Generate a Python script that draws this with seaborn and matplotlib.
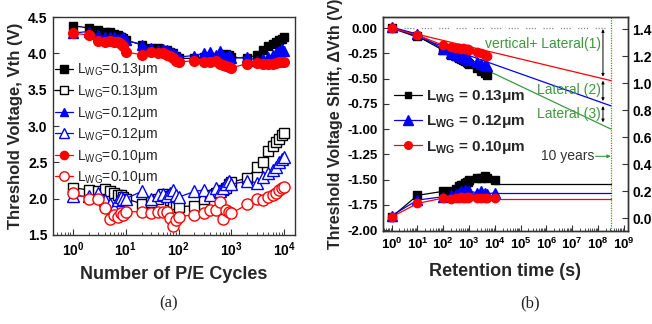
import numpy as np
import pandas as pd
import matplotlib
matplotlib.use("Agg")
import matplotlib.pyplot as plt
import seaborn as sns
from matplotlib.lines import Line2D
from matplotlib.ticker import FixedLocator, FixedFormatter, LogLocator, NullFormatter

# ---------------- data: panel (a) ----------------
cycles = [1, 2, 3, 4, 5, 6, 7, 8, 9, 10, 20, 30, 40, 50, 60, 70, 80, 90, 100,
          200, 300, 400, 500, 600, 700, 800, 900, 1000,
          2000, 3000, 4000, 5000, 6000, 7000, 8000, 9000, 10000]
vth_p13 = [4.38, 4.35, 4.32, 4.30, 4.29, 4.27, 4.25, 4.23, 4.21, 4.18, 4.12, 4.08, 4.07, 4.05, 4.04, 4.02, 4.00, 3.97, 3.93,
           3.93, 3.95, 3.93, 3.95, 3.96, 3.98, 3.99, 3.98, 3.95,
           3.93, 3.98, 4.05, 4.10, 4.13, 4.16, 4.18, 4.20, 4.22]
vth_p12 = [4.28, 4.30, 4.25, 4.23, 4.22, 4.22, 4.20, 4.20, 4.22, 4.18, 4.12, 4.07, 4.05, 4.06, 4.04, 4.02, 4.00, 3.98, 3.95,
           3.97, 4.00, 4.02, 3.98, 4.03, 3.97, 3.95, 3.98, 3.93,
           3.95, 3.90, 3.92, 3.95, 3.98, 4.00, 4.03, 4.06, 4.03]
vth_p10 = [4.28, 4.25, 4.17, 4.15, 4.17, 4.16, 4.15, 4.13, 4.10, 4.02, 3.98, 4.02, 4.00, 4.00, 3.98, 3.97, 3.93, 3.90, 3.88,
           3.90, 3.88, 3.88, 3.90, 3.86, 3.84, 3.82, 3.81, 3.80,
           3.86, 3.87, 3.86, 3.85, 3.86, 3.87, 3.88, 3.88, 3.88]
vth_e13 = [2.15, 2.12, 2.10, 2.13, 2.10, 2.08, 2.05, 2.05, 2.02, 2.00, 1.93, 1.95, 2.00, 2.07, 2.04, 1.98, 1.95, 1.93, 1.89,
           1.90, 2.00, 2.05, 2.08, 2.10, 2.12, 2.15, 2.20, 2.23,
           2.28, 2.44, 2.50, 2.65, 2.72, 2.78, 2.82, 2.87, 2.90]
vth_e12 = [2.04, 2.03, 2.08, 1.98, 1.92, 1.87, 1.98, 2.02, 2.00, 2.00, 2.10, 2.00, 2.05, 2.06, 2.04, 2.08, 2.12, 2.05, 2.02,
           2.10, 2.12, 2.05, 2.15, 2.10, 2.15, 2.20, 2.25, 2.20,
           2.24, 2.22, 2.30, 2.35, 2.40, 2.44, 2.50, 2.55, 2.58]
vth_e10 = [2.08, 2.00, 2.00, 1.87, 1.72, 1.78, 1.75, 1.80, 1.78, 1.82, 1.82, 1.80, 1.82, 1.82, 1.82, 1.74, 1.62, 1.70, 1.75,
           1.78, 1.80, 1.85, 1.85, 1.95, 1.72, 1.85, 1.82, 1.80,
           1.92, 2.00, 1.98, 2.02, 2.05, 2.08, 2.12, 2.14, 2.16]
labels_a = [r"L$_{\mathrm{WG}}$=0.13μm", r"L$_{\mathrm{WG}}$=0.13μm",
            r"L$_{\mathrm{WG}}$=0.12μm", r"L$_{\mathrm{WG}}$=0.12μm",
            r"L$_{\mathrm{WG}}$=0.10μm", r"L$_{\mathrm{WG}}$=0.10μm"]

# ---------------- data: panel (b) ----------------
t_top = [1, 10, 100, 200, 300, 400, 500, 600, 700, 800, 900, 1000, 2000, 3000, 4000, 5000]
dv_13 = [0.0, -0.08, -0.22, -0.27, -0.28, -0.30, -0.31, -0.32, -0.33, -0.34, -0.35, -0.36, -0.40, -0.42, -0.44, -0.46]
dv_12 = [0.01, -0.06, -0.21, -0.25, -0.27, -0.28, -0.28, -0.29, -0.30, -0.31, -0.31, -0.32, -0.34, -0.36, -0.37, -0.38]
dv_10 = [0.0, -0.07, -0.17, -0.19, -0.20, -0.20, -0.21, -0.20, -0.21, -0.21, -0.21, -0.22, -0.24, -0.25, -0.27, -0.28]

t_bot = [1, 10, 100, 200, 300, 400, 500, 600, 700, 800, 900, 1000, 2000, 3000, 4000, 5000, 10000]
r_13 = [0.01, 0.17, 0.20, 0.20, 0.22, 0.24, 0.25, 0.25, 0.26, 0.27, 0.27, 0.28, 0.30, 0.30, 0.31, 0.30, 0.28]
r_12 = [0.02, 0.135, 0.16, 0.17, 0.18, 0.19, 0.20, 0.19, 0.21, 0.20, 0.19, 0.20, 0.19, 0.20, 0.19, 0.18, 0.19]
r_10 = [0.01, 0.11, 0.15, 0.14, 0.15, 0.15, 0.16, 0.15, 0.15, 0.16, 0.15, 0.16, 0.15, 0.15, 0.15, 0.15, 0.15]

flat_t = [10000, 3.15e8]
flat_13 = [0.255, 0.255]
flat_12 = [0.185, 0.185]
flat_10 = [0.145, 0.145]

fit_t = [1, 3.15e8]
fit_10 = [0.0, -0.52]
fit_12 = [0.0, -0.77]
fit3_t = [2000, 3.15e8]
fit3_13 = [-0.37, -1.0]

zero_t = [3.0, 2.0e8]
zero_v = [0.0, 0.0]
ten_years = 3.15e8
labels_b = [r"L$_{\mathbf{WG}}$ = 0.13μm", r"L$_{\mathbf{WG}}$ = 0.12μm", r"L$_{\mathbf{WG}}$ = 0.10μm"]

# ---------------- style ----------------
sns.set_style("ticks")
plt.rcParams.update({
    "mathtext.fontset": "custom",
    "mathtext.rm": "Liberation Sans",
    "mathtext.bf": "Liberation Sans:bold",
    "mathtext.it": "Liberation Sans:italic",
    "axes.edgecolor": "#333333",
    "axes.linewidth": 1.0,
    "xtick.direction": "in",
    "ytick.direction": "in",
    "xtick.color": "#333333",
    "ytick.color": "#333333",
    "xtick.labelcolor": "black",
    "ytick.labelcolor": "black",
})
plt.rcParams["font.family"] = ["Liberation Sans", "DejaVu Sans"]

GREEN = "#3c9a3c"
fig = plt.figure(figsize=(6.52, 3.24), dpi=100)
axA = fig.add_axes([0.0813, 0.2747, 0.3712, 0.6728])
axB = fig.add_axes([0.5874, 0.287, 0.3758, 0.6605])
axB2 = axB.twinx()
for a in (axA, axB, axB2):
    a.set_xscale("log")


def draw(ax, x, y, color, marker, ms, filled, lw=1.0, z=2, ls="-"):
    sns.lineplot(x=x, y=y, ax=ax, color=color, marker=marker, markersize=ms,
                 markerfacecolor=color if filled else "white", markeredgecolor=color,
                 markeredgewidth=1.0, linewidth=lw, sort=False, estimator=None,
                 legend=False, zorder=z, linestyle=ls)


# ---------------- panel (a) ----------------
styles_a = [("black", "s", 6, True), ("black", "s", 7.5, False),
            ("blue", "^", 7.5, True), ("blue", "^", 8.5, False),
            ("red", "o", 7, True), ("red", "o", 8, False)]
series_a = [vth_p13, vth_e13, vth_p12, vth_e12, vth_p10, vth_e10]
for (c, m, ms, f), y in zip(styles_a, series_a):
    draw(axA, cycles, y, c, m, ms, f, lw=0.9)

axA.set_xlim(0.42, 16000)
axA.set_ylim(1.5, 4.5)
axA.set_yticks([1.5, 2.0, 2.5, 3.0, 3.5, 4.0, 4.5])
axA.set_yticklabels(["%.1f" % v for v in [1.5, 2.0, 2.5, 3.0, 3.5, 4.0, 4.5]])
axA.xaxis.set_major_locator(FixedLocator([1, 10, 100, 1000, 10000]))
axA.xaxis.set_major_formatter(FixedFormatter([r"$\mathbf{10^{%d}}$" % k for k in range(5)]))
axA.xaxis.set_minor_locator(LogLocator(base=10, subs=np.arange(2, 10), numticks=20))
axA.xaxis.set_minor_formatter(NullFormatter())
axA.tick_params(axis="both", which="major", length=4, width=0.8, labelsize=10, pad=4)
axA.tick_params(axis="x", which="minor", length=2, width=0.6)
for lab in axA.get_yticklabels():
    lab.set_fontweight("bold")
axA.set_xlabel("Number of P/E Cycles", fontsize=13, fontweight="bold")
axA.set_ylabel("Threshold Voltage, Vth (V)", fontsize=12, fontweight="bold")
axA.xaxis.set_label_coords(0.5, -0.14)
axA.yaxis.set_label_coords(-0.125, 0.5)

handles_a = [Line2D([], [], color=c, marker=m, markersize=ms * 0.85,
                    markerfacecolor=c if f else "white", markeredgecolor=c, lw=0.9)
             for (c, m, ms, f) in styles_a]
axA.legend(handles_a, labels_a, loc="center left", bbox_to_anchor=(0.01, 0.51),
           frameon=False, fontsize=10, handlelength=1.3, handletextpad=0.25,
           labelspacing=0.33, borderaxespad=0.0, borderpad=0.0)

# ---------------- panel (b) ----------------
# guide lines
axB.plot(zero_t, zero_v, color="#888888", lw=0.9, linestyle=(0, (1, 1.3, 1, 1.3, 1, 1.3, 1, 6)), zorder=1)
axB.axvline(ten_years, color=GREEN, lw=0.9, linestyle=(0, (1, 1)), zorder=1)

draw(axB, fit_t, fit_10, "red", None, 0, True, lw=0.9, z=1)
draw(axB, fit_t, fit_12, "blue", None, 0, True, lw=0.9, z=1)
draw(axB, fit3_t, fit3_13, GREEN, None, 0, True, lw=0.9, z=1)

draw(axB, t_top, dv_13, "black", "s", 5.5, True, lw=0.9, z=2)
draw(axB, t_top, dv_12, "blue", "^", 6.5, True, lw=0.9, z=3)
draw(axB, t_top, dv_10, "red", "o", 6, True, lw=0.9, z=4)

draw(axB2, t_bot, r_13, "black", "s", 5.5, True, lw=0.9, z=2)
draw(axB2, t_bot, r_12, "blue", "^", 6.5, True, lw=0.9, z=3)
draw(axB2, t_bot, r_10, "red", "o", 6, True, lw=0.9, z=4)
draw(axB2, flat_t, flat_13, "black", None, 0, True, lw=0.9, z=1)
draw(axB2, flat_t, flat_12, "blue", None, 0, True, lw=0.9, z=1)
draw(axB2, flat_t, flat_10, "red", None, 0, True, lw=0.9, z=1)

# double arrows between the extrapolated lines
x_arr = 1.55e8
lx = np.log10(x_arr)
def at(tt, vv, x):
    return np.interp(x, np.log10(tt), vv)
v_red = at(fit_t, fit_10, lx)
v_blue = at(fit_t, fit_12, lx)
v_grn = at(fit3_t, fit3_13, lx)
for top, bot in [(-0.01, v_red + 0.02), (v_red - 0.02, v_blue + 0.02), (v_blue - 0.03, v_grn + 0.03)]:
    axB.annotate("", xy=(x_arr, top), xytext=(x_arr, bot),
                 arrowprops=dict(arrowstyle="<|-|>", color="black", lw=0.7,
                                 shrinkA=0, shrinkB=0, mutation_scale=4))

axB.text(1.25e8, -0.16, "vertical+ Lateral(1)", color=GREEN, fontsize=10, ha="right", va="center")
axB.text(1.25e8, -0.61, "Lateral (2)", color=GREEN, fontsize=10, ha="right", va="center")
axB.text(1.25e8, -0.85, "Lateral (3)", color=GREEN, fontsize=10, ha="right", va="center")
axB.text(7.0e7, -1.27, "10 years", color="#333333", fontsize=10, ha="right", va="center")
axB.annotate("", xy=(ten_years, -1.27), xytext=(8.0e7, -1.27),
             arrowprops=dict(arrowstyle="-|>", color=GREEN, lw=0.8, shrinkA=0, shrinkB=0,
                             mutation_scale=5))

axB.set_xlim(0.46, 1.45e9)
axB.set_ylim(-2.01, 0.11)
axB2.set_ylim(-0.094, 1.49)
bt = [-2.0, -1.75, -1.5, -1.25, -1.0, -0.75, -0.5, -0.25, 0.0]
axB.set_yticks(bt)
axB.set_yticklabels(["%.2f" % v for v in bt])
rt = [0.0, 0.2, 0.4, 0.6, 0.8, 1.0, 1.2, 1.4]
axB2.set_yticks(rt)
axB2.set_yticklabels(["%.1f" % v for v in rt])
axB.xaxis.set_major_locator(FixedLocator([10.0 ** k for k in range(10)]))
axB.xaxis.set_major_formatter(FixedFormatter([r"$\mathbf{10^{%d}}$" % k for k in range(10)]))
axB.xaxis.set_minor_locator(LogLocator(base=10, subs=np.arange(2, 10), numticks=30))
axB.xaxis.set_minor_formatter(NullFormatter())
axB.tick_params(axis="both", which="major", length=4, width=0.8, labelsize=9.5, pad=4)
axB.tick_params(axis="x", which="minor", length=2, width=0.6)
axB2.tick_params(axis="y", which="major", length=4, width=0.8, labelsize=10, pad=3)
for lab in axB.get_yticklabels() + axB2.get_yticklabels():
    lab.set_fontweight("bold")
axB.set_xlabel("Retention time (s)", fontsize=13, fontweight="bold")
axB.set_ylabel("Threshold Voltage Shift, ΔVth (V)", fontsize=11.5, fontweight="bold")
axB.xaxis.set_label_coords(0.5, -0.15)
axB.yaxis.set_label_coords(-0.165, 0.5)

handles_b = [Line2D([], [], color="black", marker="s", markersize=5, lw=0.9),
             Line2D([], [], color="blue", marker="^", markersize=7, lw=0.9),
             Line2D([], [], color="red", marker="o", markersize=5.5, lw=0.9)]
leg = axB.legend(handles_b, labels_b, loc="center left", bbox_to_anchor=(0.045, 0.51),
                 frameon=False, fontsize=11, handlelength=1.8, handletextpad=0.3,
                 labelspacing=0.55, borderaxespad=0.0, borderpad=0.0)
for t in leg.get_texts():
    t.set_fontweight("bold")

fig.text(0.258, 0.065, "(a)", fontsize=12, family=["Liberation Serif", "DejaVu Serif"], ha="center", va="center")
fig.text(0.813, 0.065, "(b)", fontsize=12, family=["Liberation Serif", "DejaVu Serif"], ha="center", va="center")

fig.savefig("out.png", dpi=100)
